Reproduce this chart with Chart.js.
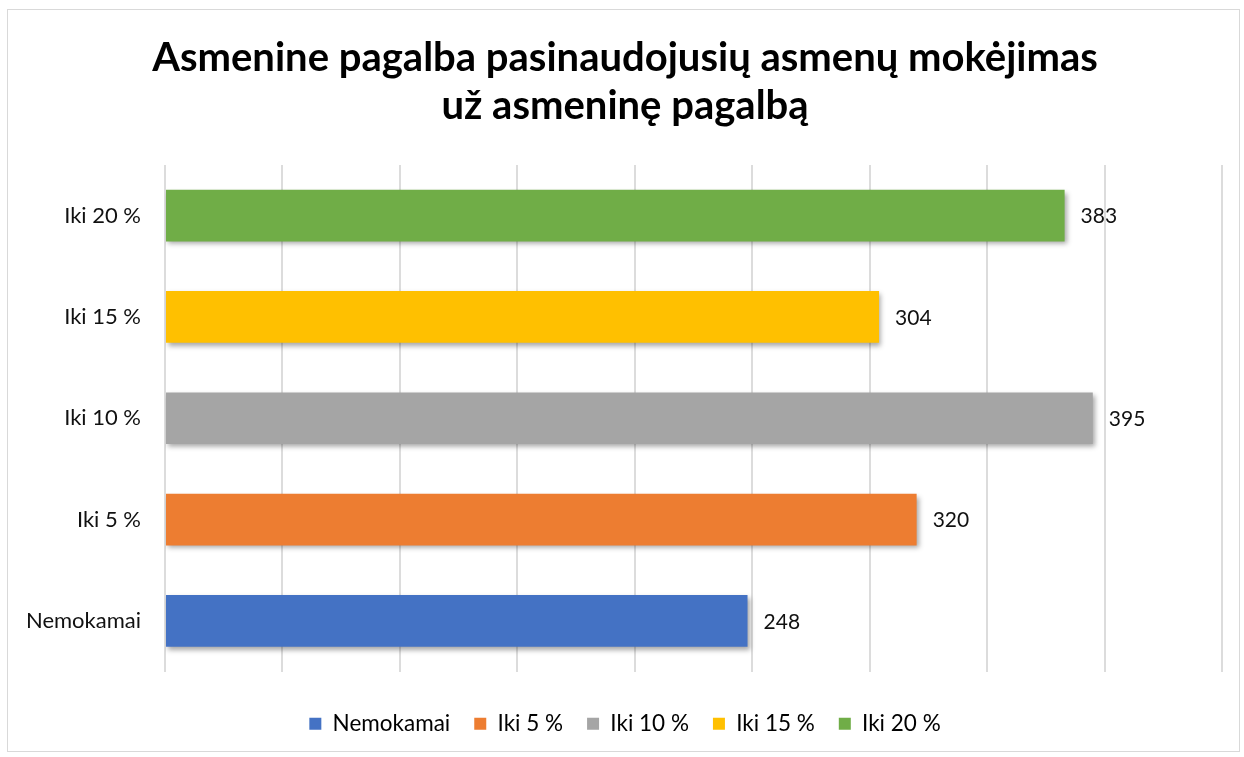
<!DOCTYPE html>
<html>
<head>
<meta charset="utf-8">
<script src="https://cdn.jsdelivr.net/npm/chart.js@4"></script>
<style>
  body { margin: 0; background: #fff; }
  #wrap { position: relative; width: 1244px; height: 757px; }
  #frame {
    position: absolute; left: 7px; top: 9px; width: 1231px; height: 741px;
    border: 1px solid #d9d9d9;
  }
  canvas { position: absolute; left: 0; top: 0; }
</style>
</head>
<body>
<div id="wrap">
  <div id="frame"></div>
  <canvas id="chart" width="1244" height="757"></canvas>
</div>
<script>
// Data
const categories = ["Nemokamai", "Iki 5 %", "Iki 10 %", "Iki 15 %", "Iki 20 %"];
const values = [248, 320, 395, 304, 383];
const barColors = ["#4472C4", "#ED7D31", "#A5A5A5", "#FFC000", "#70AD47"];
const titleLines = ["Asmenine pagalba pasinaudojusių asmenų mokėjimas", "už asmeninę pagalbą"];

const FONT = "Lato, 'Open Sans', sans-serif";

// bar shadow + value labels
const barExtras = {
  id: "barExtras",
  beforeDatasetDraw(chart) {
    const ctx = chart.ctx;
    ctx.save();
    ctx.shadowColor = "rgba(0,0,0,0.35)";
    ctx.shadowBlur = 5;
    ctx.shadowOffsetX = 2;
    ctx.shadowOffsetY = 3;
  },
  afterDatasetDraw(chart) {
    chart.ctx.restore();
  },
  afterDatasetsDraw(chart) {
    const ctx = chart.ctx;
    const meta = chart.getDatasetMeta(0);
    ctx.save();
    ctx.font = "21px " + FONT;
    ctx.fillStyle = "#111";
    ctx.textAlign = "left";
    ctx.textBaseline = "middle";
    meta.data.forEach((bar, i) => {
      ctx.fillText(String(values[i]), bar.x + 16, bar.y + 1);
    });
    ctx.restore();
  },
};

function renderChart() {
  const ctx = document.getElementById("chart").getContext("2d");
  new Chart(ctx, {
    type: "bar",
    data: {
      labels: categories,
      datasets: [
        {
          data: values,
          backgroundColor: barColors,
          borderWidth: 0,
          barPercentage: 0.51,
          categoryPercentage: 1,
        },
      ],
    },
    plugins: [barExtras],
    options: {
      indexAxis: "y",
      responsive: false,
      animation: false,
      // left padding nudges title & legend right, without clipping y labels
      layout: { padding: { left: 28, right: 22, top: 0, bottom: 12 } },
      plugins: {
        tooltip: { enabled: false },
        title: {
          display: true,
          text: titleLines,
          color: "#000",
          font: { family: FONT, size: 40, weight: "bold", lineHeight: 1.2 },
          padding: { top: 34, bottom: 35 },
        },
        legend: {
          position: "bottom",
          labels: {
            font: { family: FONT, size: 22.5 },
            color: "#111",
            boxWidth: 12,
            boxHeight: 12,
            padding: 24,
            generateLabels: () =>
              categories.map((c, i) => ({
                text: c,
                fillStyle: barColors[i],
                strokeStyle: barColors[i],
                lineWidth: 0,
                hidden: false,
                index: i,
              })),
          },
          onClick: () => {},
        },
      },
      scales: {
        x: {
          min: 0,
          max: 450,
          ticks: { display: false, stepSize: 50 },
          grid: { color: "#dcdcdc", lineWidth: 2, drawTicks: false },
          border: { display: false },
          afterFit: (s) => { s.height = 17; },
        },
        y: {
          reverse: true,
          ticks: {
            font: { family: FONT, size: 22 },
            color: "#111",
            padding: 24,
          },
          grid: { display: false, drawTicks: false },
          border: { display: false },
          afterFit: (s) => { s.width = 137; },
        },
      },
    },
  });
}

renderChart();
</script>
</body>
</html>
